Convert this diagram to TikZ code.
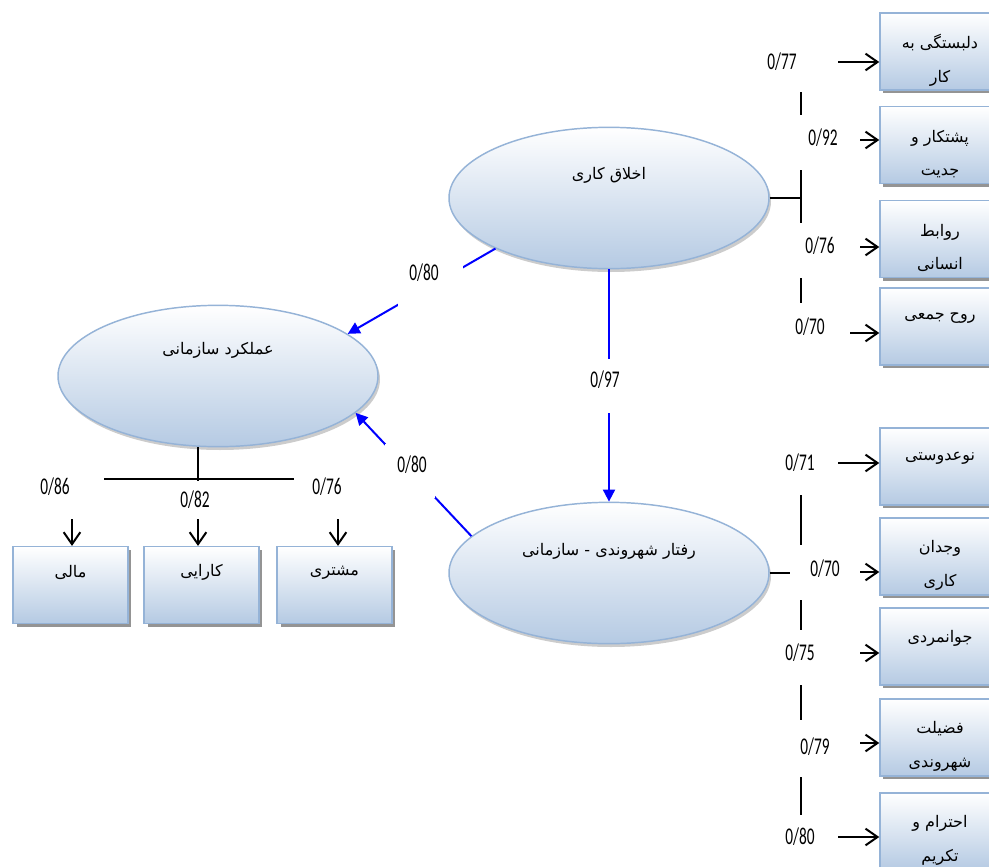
\documentclass[tikz,border=0pt]{standalone}
\usepackage{fontspec}
\newfontfamily\farsi[Script=Arabic]{DejaVu Sans}
\newfontfamily\numfont[FakeStretch=0.64]{Carlito}
\TeXXeTstate=1
\usetikzlibrary{shapes.geometric,shadows,arrows.meta}
\definecolor{bordblue}{HTML}{95B3D7}
\definecolor{fillblue}{HTML}{B5CAE3}

\begin{document}
\begin{tikzpicture}[x=0.75pt,y=-0.75pt]
  \tikzstyle{latent}=[ellipse,draw=bordblue,line width=1.1pt,top color=white,bottom color=fillblue,minimum width=240pt,minimum height=106pt,inner sep=0pt,drop shadow={shadow xshift=1.5pt,shadow yshift=-2.5pt,opacity=0.4}]
  \tikzstyle{indicator}=[rectangle,draw=bordblue,line width=1.1pt,top color=white,bottom color=fillblue,minimum height=57.5pt,inner sep=0pt,drop shadow={shadow xshift=2.5pt,shadow yshift=-2.5pt,opacity=0.6,fill=black!70}]
  \tikzstyle{farsitext}=[font=\farsi\fontsize{12}{25}\selectfont,align=center,inner sep=0pt]
  \tikzstyle{coef}=[font=\numfont\fontsize{18}{20}\selectfont,fill=white,inner sep=0pt,text height=11.4pt,text depth=0pt]
  \tikzstyle{mask}=[fill=white,inner sep=0pt]
  \tikzstyle{edge}=[draw,line width=1.5pt]
  \tikzstyle{loading}=[edge,-{Straight Barb[length=9pt,width=12.5pt]}]
  \tikzstyle{effect}=[draw=blue,line width=1.5pt,-{Triangle[length=9pt,width=9pt]}]

  \useasboundingbox (0,0) rectangle (989,867);
  \clip (0,0) rectangle (989,867);

  % latent variables
  \node [latent] (ethic) at (609,198) {};
  \node [latent] (perf) at (218,376) {};
  \node [latent] (ocb) at (609,573) {};
  \node [farsitext] (ethict) at ([yshift=17pt]ethic.center) {\beginR اخلاق کاری\endR};
  \node [farsitext] (perft) at ([yshift=19.5pt]perf.center) {\beginR عملکرد سازمانی\endR};
  \node [farsitext] (ocbt) at ([yshift=16pt]ocb.center) {\beginR رفتار شهروندی - سازمانی\endR};

  % indicators
  \node [indicator,minimum width=90pt] (k1) at (940,51.5) {};
  \node [indicator,minimum width=90pt] (k2) at (940,145) {};
  \node [indicator,minimum width=90pt] (k3) at (940,239) {};
  \node [indicator,minimum width=90pt] (k4) at (940,326.5) {};
  \node [indicator,minimum width=90pt] (k5) at (940,466.5) {};
  \node [indicator,minimum width=90pt] (k6) at (940,556.5) {};
  \node [indicator,minimum width=90pt] (k7) at (940,646.5) {};
  \node [indicator,minimum width=90pt] (k8) at (940,737.5) {};
  \node [indicator,minimum width=90pt] (k9) at (940,831.5) {};
  \node [indicator,minimum width=86pt] (m1) at (70.5,585) {};
  \node [indicator,minimum width=86pt] (m2) at (201.5,585) {};
  \node [indicator,minimum width=86pt] (m3) at (334.5,585) {};

  \node [farsitext] (k1t) at ([yshift=-36pt]k1.north) {\beginR دلبستگی به\endR\\\beginR کار\endR};
  \node [farsitext] (k2t) at ([yshift=-36pt]k2.north) {\beginR پشتکار و\endR\\\beginR جدیت\endR};
  \node [farsitext] (k3t) at ([yshift=-36pt]k3.north) {\beginR روابط\endR\\\beginR انسانی\endR};
  \node [farsitext] (k4t) at ([yshift=-23pt]k4.north) {\beginR روح جمعی\endR};
  \node [farsitext] (k5t) at ([yshift=-23pt]k5.north) {\beginR نوعدوستی\endR};
  \node [farsitext] (k6t) at ([yshift=-36pt]k6.north) {\beginR وجدان\endR\\\beginR کاری\endR};
  \node [farsitext] (k7t) at ([yshift=-23pt]k7.north) {\beginR جوانمردی\endR};
  \node [farsitext] (k8t) at ([yshift=-36pt]k8.north) {\beginR فضیلت\endR\\\beginR شهروندی\endR};
  \node [farsitext] (k9t) at ([yshift=-36pt]k9.north) {\beginR احترام و\endR\\\beginR تکریم\endR};
  \node [farsitext] (m1t) at ([yshift=-20pt]m1.north) {\beginR مالی\endR};
  \node [farsitext] (m2t) at ([yshift=-20pt]m2.north) {\beginR کارایی\endR};
  \node [farsitext] (m3t) at ([yshift=-20pt]m3.north) {\beginR مشتری\endR};

  % loadings
  \coordinate (t1) at (801,62);
  \coordinate (t2) at (801,140);
  \coordinate (t3) at (801,247);
  \coordinate (t4) at (801,333);
  \coordinate (u5) at (801,463);
  \coordinate (u6) at (801,572);
  \coordinate (u7) at (801,653);
  \coordinate (u8) at (801,743);
  \coordinate (u9) at (801,837);
  \coordinate (pj) at (198,479);
  \coordinate (pl) at (72,479);
  \coordinate (pr) at (338,479);

  \path[edge] (ethic.east) -- (ethic.east -| t1);
  \path[edge] (t1) -- (t4);
  \path[loading] (t1) -- (t1 -| k1.west);
  \path[loading] (t2) -- (t2 -| k2.west);
  \path[loading] (t3) -- (t3 -| k3.west);
  \path[loading] (t4) -- (t4 -| k4.west);

  \path[edge] (ocb.east) -- (ocb.east -| u5);
  \path[edge] (u5) -- (u9);
  \path[loading] (u5) -- (u5 -| k5.west);
  \path[loading] (u6) -- (u6 -| k6.west);
  \path[loading] (u7) -- (u7 -| k7.west);
  \path[loading] (u8) -- (u8 -| k8.west);
  \path[loading] (u9) -- (u9 -| k9.west);

  \path[edge] (perf.south -| pj) -- (pj);
  \path[edge] (pl) -- (pr);
  \path[loading] (pl) -- (pl |- m1.north);
  \path[loading] (pj) -- (pj |- m2.north);
  \path[loading] (pr) -- (pr |- m3.north);

  % paths between latents
  \path[effect] (ethic.204) -- node[mask,pos=0.44,minimum width=48.75pt,minimum height=33pt] (gA) {} (perf.18);
  \path[effect] (ocb.165) -- node[mask,pos=0.53,minimum width=38pt,minimum height=40.5pt] (gB) {} (perf.345);
  \path[effect] (ethic.south) -- node[mask,pos=0.5,minimum width=30pt,minimum height=40.5pt] (gC) {} (ocb.north);

  % coefficients
  \node [coef] (b1) at (424,273) {0/80};
  \node [coef] (b2) at (412,465) {0/80};
  \node [coef] (b3) at (605,380) {0/97};
  \node [coef,minimum width=84pt,minimum height=45pt] (l1) at (782,62) {0/77};
  \node [coef,minimum width=55.5pt,minimum height=41.25pt,text depth=6.75pt] (l2) at (823,142.5) {0/92};
  \node [coef,minimum width=60pt,minimum height=41.25pt,text depth=6.75pt] (l3) at (820,250.5) {0/76};
  \node [coef,minimum width=60pt,minimum height=36pt] (l4) at (810,327) {0/70};
  \node [coef,minimum width=57pt,minimum height=48pt] (l5) at (800,463) {0/71};
  \node [coef,minimum width=52.5pt,minimum height=41.25pt,text depth=5.25pt] (l6) at (825,572.5) {0/70};
  \node [coef,minimum width=90pt,minimum height=41.25pt,text depth=6.75pt] (l7) at (800,657.5) {0/75};
  \node [coef,minimum width=67.5pt,minimum height=42.75pt,text depth=2.25pt] (l8) at (815,748.5) {0/79};
  \node [coef,minimum width=57pt,minimum height=33pt] (l9) at (800,837) {0/80};
  \node [coef,minimum width=73.5pt,minimum height=36.75pt,text depth=11.25pt] (n1) at (55,494.5) {0/86};
  \node [coef,minimum width=67.5pt,minimum height=28.5pt] (n2) at (195,500) {0/82};
  \node [coef,minimum width=49.5pt,minimum height=36.75pt,text depth=11.25pt] (n3) at (327,494.5) {0/76};
\end{tikzpicture}
\end{document}
